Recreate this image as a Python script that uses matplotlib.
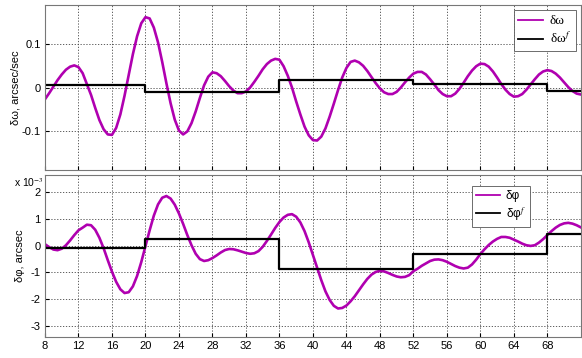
import numpy as np
import matplotlib
matplotlib.use('Agg')
import matplotlib.pyplot as plt

# sample times, every half second
t = np.arange(8, 72.5, 0.5)

# rate error (arcsec/sec)
w = [-0.027, -0.013, 0.002, 0.017, 0.030, 0.041, 0.048, 0.051, 0.047, 0.033,
     0.008, -0.017, -0.047, -0.075, -0.096, -0.108, -0.109, -0.093, -0.062, -0.019,
     0.029, 0.077, 0.118, 0.148, 0.162, 0.159, 0.138, 0.104, 0.059, 0.010,
     -0.036, -0.074, -0.099, -0.108, -0.101, -0.082, -0.055, -0.024, 0.005, 0.025,
     0.035, 0.033, 0.026, 0.015, 0.003, -0.007, -0.013, -0.013, -0.009, 0.000,
     0.013, 0.027, 0.042, 0.054, 0.062, 0.066, 0.064, 0.049, 0.027, 0.000,
     -0.032, -0.062, -0.090, -0.110, -0.121, -0.122, -0.113, -0.094, -0.067, -0.037,
     -0.006, 0.023, 0.045, 0.059, 0.062, 0.058, 0.050, 0.038, 0.024, 0.010,
     -0.002, -0.011, -0.015, -0.015, -0.010, 0.000, 0.012, 0.023, 0.032, 0.036,
     0.036, 0.030, 0.019, 0.007, -0.006, -0.015, -0.020, -0.020, -0.014, -0.003,
     0.011, 0.026, 0.039, 0.049, 0.055, 0.054, 0.048, 0.037, 0.023, 0.008,
     -0.005, -0.015, -0.021, -0.020, -0.015, -0.005, 0.007, 0.019, 0.030, 0.037,
     0.040, 0.038, 0.032, 0.023, 0.012, 0.001, -0.008, -0.014, -0.016]

# angle error (x 1e-3 arcsec)
p = [0.06, -0.05, -0.14, -0.165, -0.11, 0.02, 0.20, 0.40, 0.58, 0.68,
     0.79, 0.77, 0.60, 0.30, -0.09, -0.54, -0.97, -1.35, -1.63, -1.77,
     -1.74, -1.52, -1.13, -0.61, -0.02, 0.58, 1.13, 1.55, 1.80, 1.865,
     1.77, 1.54, 1.21, 0.82, 0.40, 0.02, -0.30, -0.50, -0.57, -0.54,
     -0.46, -0.36, -0.25, -0.16, -0.12, -0.13, -0.17, -0.22, -0.27, -0.30,
     -0.28, -0.20, -0.04, 0.18, 0.42, 0.67, 0.89, 1.06, 1.16, 1.185,
     1.09, 0.875, 0.55, 0.13, -0.34, -0.82, -1.29, -1.71, -2.03, -2.25,
     -2.35, -2.33, -2.24, -2.08, -1.89, -1.67, -1.445, -1.24, -1.08, -0.98,
     -0.94, -0.96, -1.02, -1.09, -1.15, -1.18, -1.165, -1.10, -0.95, -0.86,
     -0.75, -0.66, -0.57, -0.52, -0.51, -0.54, -0.60, -0.68, -0.76, -0.82,
     -0.85, -0.82, -0.70, -0.52, -0.31, -0.13, 0.03, 0.16, 0.26, 0.33,
     0.33, 0.30, 0.23, 0.16, 0.08, 0.02, -0.005, 0.02, 0.12, 0.25,
     0.40, 0.55, 0.68, 0.78, 0.84, 0.86, 0.83, 0.77, 0.69]

# piecewise constant estimates
t_step = [8, 20, 36, 52, 68, 72]
w_f = [0.0053, -0.0099, 0.0176, 0.0092, -0.0076]
p_f = [-0.10, 0.25, -0.88, -0.31, 0.43]

xticks = np.arange(8, 72, 4)
mag = '#b000b0'

plt.rcParams['font.family'] = ['Liberation Sans', 'DejaVu Sans']
plt.rcParams['mathtext.fontset'] = 'stix'

fig = plt.figure(figsize=(5.82, 3.58), dpi=100, facecolor='w')
ax1 = fig.add_axes([0.0773, 0.525, 0.9207, 0.461])
ax2 = fig.add_axes([0.0773, 0.060, 0.9207, 0.451])

def stairs(ax, edges, vals, **kw):
    ax.step(edges, list(vals) + [vals[-1]], where='post', **kw)

# top panel
ax1.plot(t, w, color=mag, lw=1.9, label='δω', solid_joinstyle='round')
stairs(ax1, t_step, w_f, color='k', lw=1.6, label='δω$^{f}$')
ax1.set_ylim(-0.19, 0.19)
ax1.set_yticks([-0.1, 0, 0.1])
ax1.set_yticklabels(['-0.1', '0', '0.1'])
ax1.set_ylabel('δω, arcsec/sec', fontsize=8, labelpad=1)
leg1 = ax1.legend(loc='upper right', prop={'family': 'Liberation Serif', 'size': 9.5},
                  handlelength=1.9, handletextpad=0.5, borderaxespad=0.4,
                  fancybox=False, framealpha=1, edgecolor='#555555', borderpad=0.35,
                  labelspacing=0.3)
leg1.get_frame().set_linewidth(0.6)

# bottom panel
ax2.plot(t, p, color=mag, lw=1.9, label='δφ', solid_joinstyle='round')
stairs(ax2, t_step, p_f, color='k', lw=1.6, label='δφ$^{f}$')
ax2.set_ylim(-3.4, 2.65)
ax2.set_yticks([-3, -2, -1, 0, 1, 2])
ax2.set_yticklabels(['-3', '-2', '-1', '0', '1', '2'])
ax2.set_ylabel('δφ, arcsec', fontsize=8, labelpad=4)
ax2.text(-0.058, 0.925, r'x 10$^{-3}$', transform=ax2.transAxes, fontsize=7.5,
         ha='left', va='baseline')
leg2 = ax2.legend(loc='upper left', bbox_to_anchor=(0.797, 0.935), fontsize=8.5,
                  handlelength=2.0, handletextpad=0.5, fancybox=False, framealpha=1,
                  edgecolor='#555555', borderpad=0.35, labelspacing=0.3, borderaxespad=0)
leg2.get_frame().set_linewidth(0.6)

for leg in (leg1, leg2):
    for ln in leg.get_lines():
        ln.set_linewidth(1.3)

for ax in (ax1, ax2):
    ax.set_xlim(8, 72)
    ax.set_xticks(xticks)
    ax.grid(True, linestyle=(0, (1.5, 2)), color='#444444', linewidth=0.6)
    ax.tick_params(direction='in', length=3, labelsize=8, width=0.8, pad=3)
    for s in ax.spines.values():
        s.set_color('#777777')
        s.set_linewidth(0.8)
ax1.tick_params(labelbottom=False)

plt.savefig('out.png', dpi=100)
